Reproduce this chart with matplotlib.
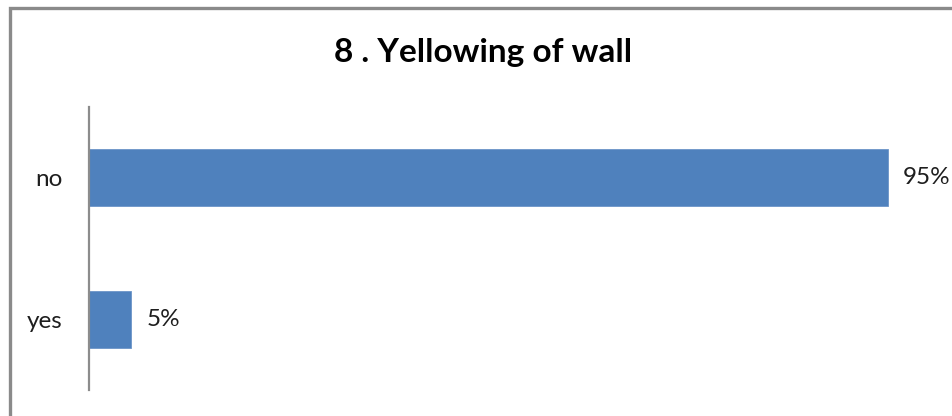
import matplotlib.pyplot as plt
from matplotlib.patches import Rectangle

categories = ['yes', 'no']
values = [5, 95]
labels = ['5%', '95%']

plt.rcParams['font.family'] = ['Lato', 'DejaVu Sans']

fig = plt.figure(figsize=(9.52, 4.16), dpi=100)
ax = fig.add_axes([89 / 952, 26 / 416, 841 / 952, 283 / 416])

bars = ax.barh(categories, values, height=0.4, color='#4F81BD', edgecolor='#6C95C8', linewidth=0.6)
ax.set_xlim(0, 100)
ax.set_ylim(-0.5, 1.5)

for bar, lab in zip(bars, labels):
    ax.annotate(lab, (bar.get_width(), bar.get_y() + bar.get_height() / 2),
                xytext=(11, 0), textcoords='offset points', va='center', ha='left',
                fontsize=17.5, color='#1e1e1e')

for side in ['top', 'right', 'bottom']:
    ax.spines[side].set_visible(False)
ax.spines['left'].set_color('#8C8C8C')
ax.spines['left'].set_linewidth(1.6)
ax.set_xticks([])
ax.tick_params(axis='y', length=0, pad=19, labelsize=17.5, labelcolor='#1e1e1e')

fig.text(483 / 952, 1 - 62 / 416, '8 . Yellowing of wall', ha='center', va='baseline',
         fontsize=24, fontweight='bold', color='black')

# outer chart frame, runs off the right and bottom edges
fig.patches.append(Rectangle((10 / 952, -0.2), 2, 1.2 - 7.5 / 416, transform=fig.transFigure,
                             fill=False, edgecolor='#8A8A8A', linewidth=2.4))

fig.savefig('out.png', dpi=100)
